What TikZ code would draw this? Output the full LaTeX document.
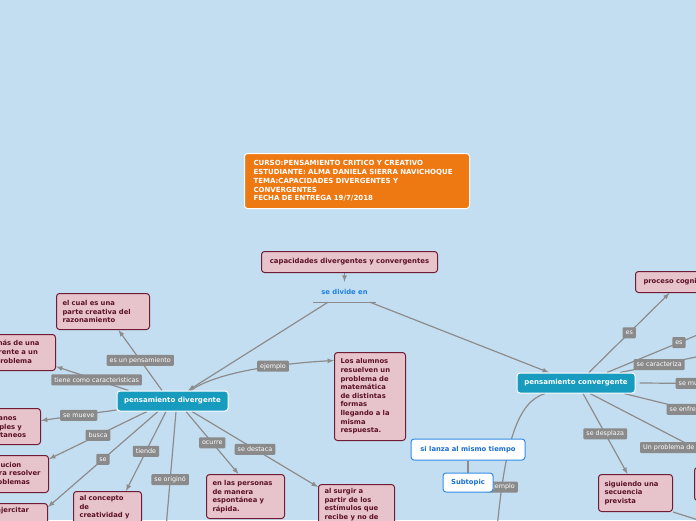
\documentclass[tikz,border=0pt]{standalone}
\usepackage{fontspec}
\setmainfont{DejaVu Sans}
\usetikzlibrary{arrows,calc}
\pgfdeclarelayer{background}
\pgfdeclarelayer{edges}
\pgfsetlayers{background,edges,main}
\definecolor{bgblue}{RGB}{196,222,241}
\definecolor{titleorange}{RGB}{238,120,17}
\definecolor{pinkfill}{RGB}{231,196,203}
\definecolor{pinkline}{RGB}{112,28,52}
\definecolor{pinktext}{RGB}{92,16,40}
\definecolor{topicteal}{RGB}{23,155,190}
\definecolor{lblgray}{RGB}{138,138,138}
\definecolor{edgegray}{RGB}{140,140,140}
\definecolor{linkblue}{RGB}{30,128,224}
\definecolor{subblue}{RGB}{50,140,230}
\definecolor{subtext}{RGB}{25,110,210}
\tikzset{
  titlebox/.style={anchor=north west, draw=white, fill=titleorange, text=white, line width=1pt, rounded corners=3pt, align=left, text width=207pt, inner xsep=9pt, inner ysep=4pt, minimum height=55pt, font=\bfseries\fontsize{7}{8.8}\selectfont},
  pinkbox/.style={anchor=north west, draw=pinkline, fill=pinkfill, text=pinktext, line width=1pt, rounded corners=3pt, align=left, inner xsep=6pt, inner ysep=4pt, font=\bfseries\fontsize{6.8}{8.6}\selectfont},
  topicbox/.style={draw=white, fill=topicteal, text=white, line width=1pt, rounded corners=3pt, inner sep=0pt, minimum height=20pt, font=\bfseries\fontsize{7}{8.4}\selectfont},
  subbox/.style={draw=subblue, fill=white, text=subtext, line width=1pt, rounded corners=3pt, inner sep=0pt, font=\bfseries\fontsize{6.8}{8.2}\selectfont},
  linktext/.style={text=linkblue, inner sep=0pt, minimum width=63pt, minimum height=20pt, font=\bfseries\fontsize{6.8}{8.2}\selectfont},
  lbl/.style={fill=lblgray, text=white, rounded corners=1pt, inner xsep=3pt, inner ysep=2pt, minimum height=11pt, font=\fontsize{6.4}{7.6}\selectfont},
  conn/.style={->, draw=edgegray, line width=1.2pt},
}
\begin{document}
\begin{tikzpicture}[>=latex,line join=bevel,x=1pt,y=-1pt]
\useasboundingbox (0,0) rectangle (696,520);
\begin{pgfonlayer}{background}
  \fill[bgblue] (0,0) rectangle (696,520);
\end{pgfonlayer}
  % Node: title
  \node[titlebox] (title) at (244,153) {CURSO:PENSAMIENTO CRITICO Y CREATIVO\\ESTUDIANTE: ALMA DANIELA SIERRA NAVICHOQUE\\TEMA:CAPACIDADES DIVERGENTES Y\\CONVERGENTES\\FECHA DE ENTREGA 19/7/2018};
  % Node: cap
  \node[pinkbox, align=center, minimum width=176pt, minimum height=21pt, font=\bfseries\fontsize{6.9}{8.4}\selectfont] (cap) at (261,251) {capacidades divergentes y convergentes};
  % Node: sdiv
  \node[linktext] (sdiv) at (344.5,292) {se divide en};
  % Node: div
  \node[topicbox, minimum width=111pt] (div) at (172.5,401) {pensamiento divergente};
  % Node: conv
  \node[topicbox, minimum width=118pt] (conv) at (576,383) {pensamiento convergente};
  % Node: raz
  \node[pinkbox, text width=81pt, minimum height=36pt] (raz) at (56,293) {el cual es una\\parte creativa del\\razonamiento};
  % Node: mult
  \node[pinkbox, text width=54pt, minimum height=36pt] (mult) at (-11,334) {más de una\\frente a un\\problema};
  % Node: plan
  \node[pinkbox, text width=55pt, minimum height=36pt] (plan) at (-27,408) {en planos\\múltiples y\\simultaneos};
  % Node: sol
  \node[pinkbox, text width=53pt, minimum height=37pt] (sol) at (-17,455) {solucion\\para resolver\\problemas};
  % Node: ejer
  \node[pinkbox, text width=45pt, text depth=14pt] (ejer) at (-10,503) {ejercitar};
  % Node: conc
  \node[pinkbox, text width=56pt] (conc) at (73,491) {al concepto\\de\\creatividad y};
  % Node: pers
  \node[pinkbox, text width=66pt, minimum height=44pt] (pers) at (206,474) {en las personas\\de manera\\espontánea y\\rápida.};
  % Node: alum
  \node[pinkbox, text width=59pt, minimum height=88pt] (alum) at (334,352) {Los alumnos\\resuelven un\\problema de\\matemática\\de distintas\\formas\\llegando a la\\misma\\respuesta.};
  % Node: surg
  \node[pinkbox, text width=64pt] (surg) at (318,484) {al surgir a\\partir de los\\estímulos que\\recibe y no de};
  % Node: proc
  \node[pinkbox, text width=88pt, minimum height=21pt, inner xsep=8pt] (proc) at (635,271) {proceso cognitivo};
  % Node: sig
  \node[pinkbox, text width=62pt, minimum height=37pt] (sig) at (598,474) {siguiendo una\\secuencia\\prevista};
  % Node: ext
  \node[pinkbox, text width=40pt, minimum height=33pt] (ext) at (694,467) {};
  % Node: lanza
  \node[subbox, minimum width=114pt, minimum height=21pt] (lanza) at (468,449.5) {si lanza al mismo tiempo};
  % Node: sub
  \node[subbox, minimum width=50pt, minimum height=19pt] (sub) at (468,482.5) {Subtopic};
  % free ends
  \coordinate (orig) at (165,540);
  \coordinate (c1) at (760,309);
  \coordinate (c2) at (760,344);
  \coordinate (c3) at (780,384);
  \coordinate (c4) at (780,432);
  \coordinate (c5) at (780,492);
  \coordinate (c6) at (730,530);
  \coordinate (c7) at (496,540);
\begin{pgfonlayer}{edges}
  % Edge: cap -> sdiv
  \draw[conn] (cap.south -| sdiv) -- (sdiv);
  \draw[edgegray, line width=1.2pt] (sdiv.south west) -- (sdiv.south east);
  % Edge: sdiv -> div
  \draw[conn] ([xshift=-16.5pt]sdiv.south) -- ([xshift=15.5pt]div.north);
  % Edge: sdiv -> conv
  \draw[conn] ([xshift=25.5pt]sdiv.south) -- ([xshift=-27pt]conv.north);
  % Edge: div -> raz
  \draw[conn] ([xshift=-10.5pt]div.north) -- node[lbl] {es un pensamiento} ([xshift=15.5pt]raz.south);
  % Edge: div -> mult
  \draw[conn] ([xshift=-44pt]div.north) -- node[lbl, pos=0.44] {tiene como caracteristicas} ([yshift=-14pt]mult.east);
  % Edge: div -> plan
  \draw[conn] ([yshift=-9pt]div.west) -- node[lbl] {se mueve} ([yshift=6pt]plan.east);
  % Edge: div -> sol
  \draw[conn] ([xshift=-25.5pt]div.south) -- node[lbl] {busca} ([yshift=-4pt]sol.north east);
  % Edge: div -> ejer
  \draw[conn] ([xshift=-14.5pt]div.south) -- node[lbl] {se} ([yshift=-4pt]ejer.north east);
  % Edge: div -> conc
  \draw[conn] ([xshift=-6.5pt]div.south) -- node[lbl] {tiende} ([xshift=18.5pt]conc.north);
  % Edge: div -> orig
  \draw[conn] ([xshift=3.5pt]div.south) -- node[lbl, pos=0.53] {se originó} (orig);
  % Edge: div -> pers
  \draw[conn] ([xshift=13.5pt]div.south) -- node[lbl] {ocurre} ([xshift=-7pt]pers.north);
  % Edge: div -> surg
  \draw[conn] ([xshift=19.5pt]div.south) -- node[lbl] {se destaca} ([yshift=-3pt]surg.north west);
  % Edge: div -> alum
  \draw[conn] ([xshift=18pt]div.north) .. controls (220,370) and (290,363) .. ([yshift=36pt]alum.west) node[lbl, pos=0.6] {ejemplo};
  % Edge: conv -> proc
  \draw[conn] ([xshift=13pt]conv.north) -- node[lbl] {es} ([xshift=-18pt]proc.south);
  % Edge: conv -> c1
  \draw[conn] ([xshift=31pt]conv.north) -- node[lbl, pos=0.47] {es} (c1);
  % Edge: conv -> c2
  \draw[conn] ([xshift=44pt]conv.north) -- node[lbl, pos=0.28] {se caracteriza} (c2);
  % Edge: conv -> c3
  \draw[conn] ([xshift=4pt]conv.east) -- node[lbl, pos=0.39] {se mueve} (c3);
  % Edge: conv -> c4
  \draw[conn] ([xshift=48pt]conv.south) -- node[lbl, pos=0.41] {se enfrenta} (c4);
  % Edge: conv -> c5
  \draw[conn] ([xshift=14pt]conv.south) -- (c5);
  \node[lbl, anchor=west] (lprob) at (640,447.5) {Un problema de};
  % Edge: conv -> sig
  \draw[conn] ([xshift=7pt]conv.south) -- node[lbl] {se desplaza} ([xshift=-8pt]sig.north);
  % Edge: sig -> c6
  \draw[conn] (sig.south east) -- (c6);
  % Edge: conv -> c7
  \draw[conn] ([xshift=-31pt]conv.south) .. controls (518,402) and (505,440) .. (c7) node[lbl, pos=0.8] {ejemplo};
  % Edge: lanza -- sub
  \draw[edgegray, line width=1.2pt] (lanza) -- (sub);
\end{pgfonlayer}
\end{tikzpicture}
\end{document}
